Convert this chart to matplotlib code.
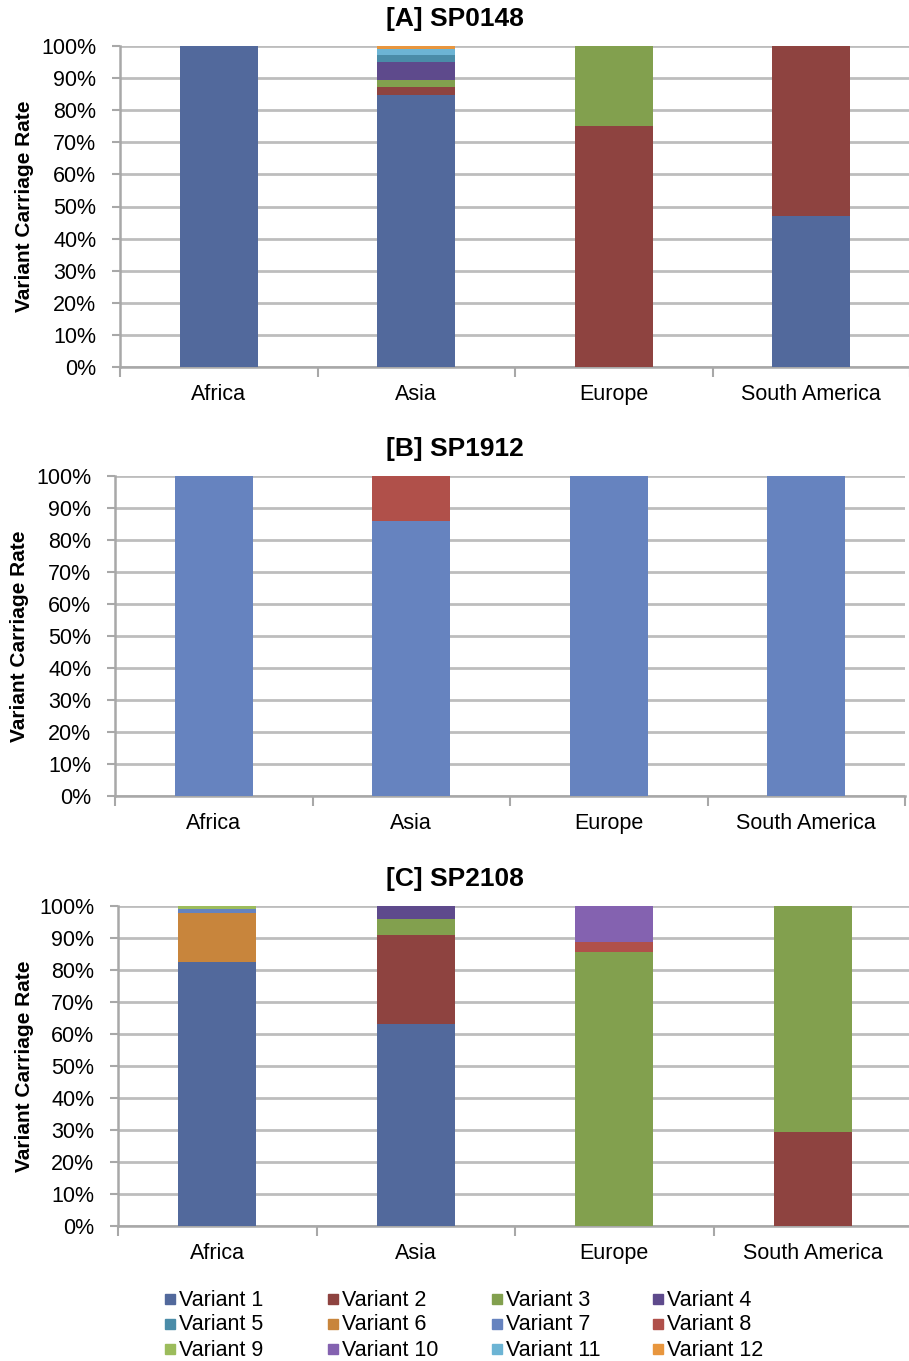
import matplotlib
matplotlib.use("Agg")
import matplotlib.pyplot as plt
from matplotlib.patches import Rectangle
import numpy as np

plt.rcParams['font.family'] = ['Liberation Sans', 'DejaVu Sans']

regions = ["Africa", "Asia", "Europe", "South America"]
variants = [f"Variant {i}" for i in range(1, 13)]
colors = ['#52699C', '#8E4340', '#82A04E', '#5E4A8C', '#4A8CA8', '#C8853C',
          '#6683BF', '#B0504A', '#9CBC5C', '#8462B0', '#6CB4D4', '#E8963E']

# values per variant (keys) for each region (Africa, Asia, Europe, South America)
sp0148 = {
    1: [100, 84.7, 0, 47.0],
    2: [0, 2.4, 75.1, 53.0],
    3: [0, 2.3, 24.9, 0],
    4: [0, 5.6, 0, 0],
    5: [0, 2.2, 0, 0],
    11: [0, 1.9, 0, 0],
    12: [0, 0.9, 0, 0],
}
sp1912 = {
    7: [100, 85.9, 100, 100],
    8: [0, 14.1, 0, 0],
}
sp2108 = {
    1: [82.6, 63.0, 0, 0],
    2: [0, 28.0, 0, 29.5],
    3: [0, 5.0, 85.5, 70.5],
    4: [0, 4.0, 0, 0],
    6: [15.2, 0, 0, 0],
    7: [1.2, 0, 0, 0],
    9: [1.0, 0, 0, 0],
    8: [0, 0, 3.3, 0],
    10: [0, 0, 11.2, 0],
}

panels = [("[A] SP0148", sp0148), ("[B] SP1912", sp1912), ("[C] SP2108", sp2108)]

W, H = 909, 1361
fig = plt.figure(figsize=(W / 100, H / 100), dpi=100)

# axes boxes in pixels: left, top, right, bottom
boxes = [(120, 46, 910, 367), (115, 476, 905, 796), (118, 906, 912, 1226)]
ylabel_x = [25, 20, 25]

x = np.arange(len(regions))
for (title, data), (l, t, r, b), yx in zip(panels, boxes, ylabel_x):
    ax = fig.add_axes([l / W, 1 - b / H, (r - l) / W, (b - t) / H])
    bottom = np.zeros(len(regions))
    for v in range(1, 13):
        if v in data:
            vals = np.array(data[v], dtype=float)
            ax.bar(x, vals, width=0.395, bottom=bottom, color=colors[v - 1], zorder=3)
            bottom += vals
    ax.set_xlim(-0.5, 3.5)
    ax.set_ylim(0, 100)
    ax.set_yticks(np.arange(0, 101, 10))
    ax.set_yticklabels([f"{v}%" for v in range(0, 101, 10)], fontsize=15.5)
    ax.set_xticks(x)
    ax.set_xticklabels(regions, fontsize=15.5)
    ax.tick_params(axis='x', length=0, pad=12)
    ax.set_xticks(np.arange(-0.5, 4.0, 1.0), minor=True)
    ax.tick_params(axis='x', which='minor', length=7, width=1.5, color='#A8A8A8', direction='out')
    ax.tick_params(axis='y', length=6, width=1.5, color='#A8A8A8', pad=11)
    ax.grid(axis='y', color='#BDBDBD', linewidth=2, zorder=0)
    for s in ['top', 'right']:
        ax.spines[s].set_visible(False)
    for s in ['left', 'bottom']:
        ax.spines[s].set_color('#A8A8A8')
        ax.spines[s].set_linewidth(1.8)
    fig.text(yx / W, 1 - ((t + b) / 2) / H, "Variant Carriage Rate", rotation=90,
             fontsize=15, fontweight='bold', ha='center', va='center')
    fig.text(455 / W, 1 - (t - 27) / H, title, fontsize=19, fontweight='bold',
             ha='center', va='center')

# legend, laid out row by row
col_x = [165, 328, 492, 653]
row_y = [1300, 1325, 1350]
for k in range(12):
    i, j = divmod(k, 4)
    sx, sy = col_x[j], row_y[i]
    fig.patches.append(Rectangle((sx / W, 1 - (sy + 4) / H), 10 / W, 10 / H,
                                 transform=fig.transFigure, color=colors[k]))
    fig.text((sx + 14) / W, 1 - sy / H, variants[k], fontsize=15.5,
             ha='left', va='center')

fig.savefig("out.png", dpi=100)
